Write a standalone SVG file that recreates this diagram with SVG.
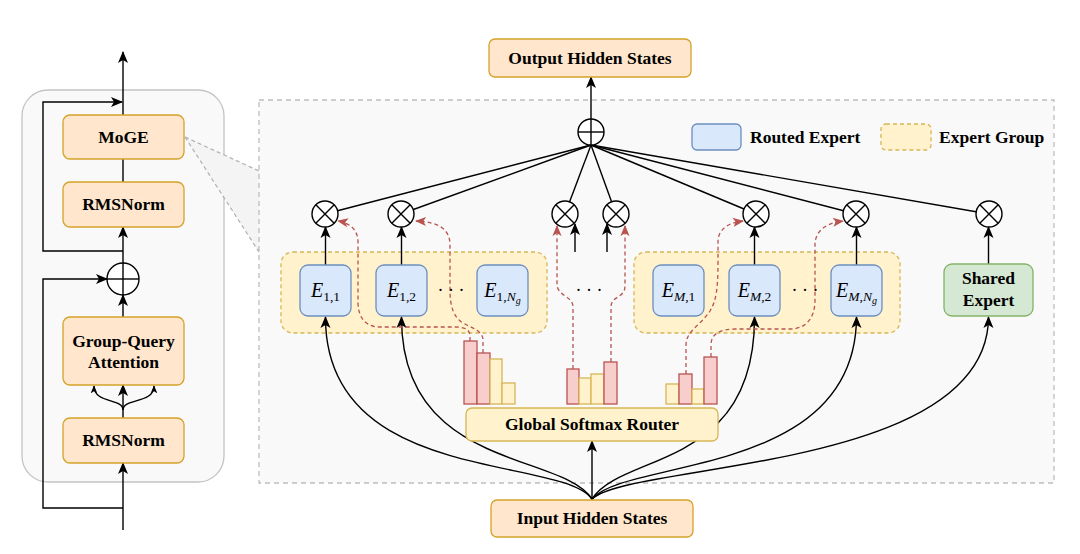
<svg xmlns="http://www.w3.org/2000/svg" width="1080" height="554" viewBox="0 0 1080 554">
<defs>
<marker id="ab" markerUnits="userSpaceOnUse" markerWidth="12" markerHeight="12" viewBox="0 0 12 12" refX="11" refY="6" orient="auto">
<path d="M0,1 L12,6 L0,11 L3,6 Z" fill="#000"/>
</marker>
<marker id="abs" markerUnits="userSpaceOnUse" markerWidth="8" markerHeight="8" viewBox="0 0 12 12" refX="11" refY="6" orient="auto">
<path d="M0,1 L12,6 L0,11 L3,6 Z" fill="#000"/>
</marker>
<marker id="ar" markerUnits="userSpaceOnUse" markerWidth="11" markerHeight="11" viewBox="0 0 12 12" refX="11" refY="6" orient="auto">
<path d="M0,1 L12,6 L0,11 L3,6 Z" fill="#b85450"/>
</marker>
<style>
text{font-family:"Liberation Serif","Times New Roman",serif;font-weight:bold;font-size:17.5px;fill:#000;text-anchor:middle}
.orange{fill:#ffe6cc;stroke:#d6a22a;stroke-width:1.3}
.blue{fill:#dae8fc;stroke:#6c8ebf;stroke-width:1.3}
.green{fill:#d5e8d4;stroke:#82b366;stroke-width:1.3}
.grp{fill:#fff2cc;stroke:#d6b656;stroke-width:1.3;stroke-dasharray:4 3}
.router{fill:#fff2cc;stroke:#d6b656;stroke-width:1.3}
.rbar{fill:#f8cecc;stroke:#b85450;stroke-width:1.3}
.ybar{fill:#fff2cc;stroke:#d6b656;stroke-width:1.3}
.ln{fill:none;stroke:#000;stroke-width:1.4}
.rd{fill:none;stroke:#b85450;stroke-width:1.3;stroke-dasharray:4 3}
.op{fill:#fff;stroke:#000;stroke-width:1.4}
.math{font-family:"Liberation Serif","Times New Roman",serif;font-style:italic;font-weight:normal;font-size:20px}
.sub{font-style:normal;font-size:13.5px}
.subi{font-style:italic;font-size:13.5px}
.subsub{font-style:italic;font-size:10px}
.dots{font-weight:normal;font-size:18px}
.leg{text-anchor:start}
</style>
</defs>

<!-- Left panel background -->
<rect x="22" y="90" width="202" height="392" rx="26" fill="#f9f9f9" stroke="#c4c4c4" stroke-width="1.3"/>

<!-- Zoom region -->
<polygon points="185,137 259,171 259,252" fill="#f4f4f4"/>
<rect x="259" y="100" width="795" height="383" fill="#f9f9f9" stroke="#bdbdbd" stroke-width="1.3" stroke-dasharray="5 4"/>
<g id="zoom-lines" stroke="#b0b0b0" stroke-width="1.2" stroke-dasharray="4 3" fill="none">
<line x1="185" y1="137" x2="259" y2="171"/>
<line x1="185" y1="137" x2="259" y2="252"/>
</g>

<!-- Expert group backgrounds -->
<g id="group-1"><rect class="grp" x="281" y="252" width="266" height="81" rx="12"/></g>
<g id="group-m"><rect class="grp" x="634" y="252" width="266" height="81" rx="12"/></g>

<!-- Connectors -->
<g id="connectors">
<!-- left panel -->
<line class="ln" x1="123" y1="530" x2="123" y2="463" marker-end="url(#ab)"/>
<path class="ln" d="M123,508 L43,508 L43,279 L107,279" marker-end="url(#ab)"/>
<line class="ln" x1="123" y1="418" x2="123" y2="385" marker-end="url(#ab)"/>
<path class="ln" d="M123,410 C123,398 94,404 94,386" marker-end="url(#abs)"/>
<path class="ln" d="M123,410 C123,398 154,404 154,386" marker-end="url(#abs)"/>
<line class="ln" x1="123" y1="317" x2="123" y2="295" marker-end="url(#ab)"/>
<line class="ln" x1="123" y1="263" x2="123" y2="227" marker-end="url(#ab)"/>
<path class="ln" d="M123,251 L43,251 L43,102 L122,102" marker-end="url(#ab)"/>
<line class="ln" x1="123" y1="182" x2="123" y2="159"/>
<line class="ln" x1="123" y1="115" x2="123" y2="52" marker-end="url(#ab)"/>

<!-- top: oplus to output -->
<line class="ln" x1="591" y1="119" x2="591" y2="77" marker-end="url(#ab)"/>
<!-- oplus to otimes -->
<line class="ln" x1="591" y1="145" x2="325" y2="214"/>
<line class="ln" x1="591" y1="145" x2="401" y2="214"/>
<line class="ln" x1="591" y1="145" x2="565" y2="214"/>
<line class="ln" x1="591" y1="145" x2="616" y2="214"/>
<line class="ln" x1="591" y1="145" x2="756" y2="214"/>
<line class="ln" x1="591" y1="145" x2="856" y2="214"/>
<line class="ln" x1="591" y1="145" x2="989" y2="214"/>

<!-- expert to otimes -->
<line class="ln" x1="325.5" y1="265" x2="325.5" y2="227" marker-end="url(#ab)"/>
<line class="ln" x1="401.5" y1="265" x2="401.5" y2="227" marker-end="url(#ab)"/>
<line class="ln" x1="754.5" y1="265" x2="754.5" y2="227" marker-end="url(#ab)"/>
<line class="ln" x1="856.5" y1="265" x2="856.5" y2="227" marker-end="url(#ab)"/>
<line class="ln" x1="988.5" y1="264" x2="988.5" y2="227" marker-end="url(#ab)"/>
<line class="ln" x1="575" y1="252" x2="575" y2="224" marker-end="url(#ab)"/>
<line class="ln" x1="607" y1="252" x2="607" y2="224" marker-end="url(#ab)"/>

<!-- input to router -->
<line class="ln" x1="592" y1="500" x2="592" y2="441" marker-end="url(#ab)"/>
<!-- input to experts -->
<path class="ln" d="M592,499 C560,455 325,485 325.5,317" marker-end="url(#ab)"/>
<path class="ln" d="M592,499 C562,452 401,470 401.5,317" marker-end="url(#ab)"/>
<path class="ln" d="M592,499 C622,452 755,470 754.5,317" marker-end="url(#ab)"/>
<path class="ln" d="M592,499 C626,458 856,478 856.5,317" marker-end="url(#ab)"/>
<path class="ln" d="M592,499 C630,462 988,472 988.5,317" marker-end="url(#ab)"/>

<!-- red routing -->
<path class="rd" d="M470,341 L470,336 C470,329 464,327 455,327 L380,327 C366,327 358,318 358,302 L358,242 C358,230 350,223 338,221" marker-end="url(#ar)"/>
<path class="rd" d="M483,353 L483,340 C483,331 472,328 463,323 C453,317 450,305 450,290 L450,245 C450,230 440,222 416,221" marker-end="url(#ar)"/>
<path class="rd" d="M573,369 L573,307 C573,296 557,296 557,284 L557,226" marker-end="url(#ar)"/>
<path class="rd" d="M611,362 L611,307 C611,296 625,298 625,286 L625,226" marker-end="url(#ar)"/>
<path class="rd" d="M686,374 L686,345 C686,331 700,326 710,311 C716,301 718,290 718,262 L718,242 C718,229 728,223 743,221" marker-end="url(#ar)"/>
<path class="rd" d="M711,357 L711,345 C711,334 720,329 735,329 L790,329 C806,329 815,318 815,300 L815,245 C815,231 826,223 843,221" marker-end="url(#ar)"/>
</g>

<!-- Left panel nodes -->
<g id="moge"><rect class="orange" x="63" y="115" width="121" height="44" rx="7"/><text x="123.5" y="143">MoGE</text></g>
<g id="rmsnorm-top"><rect class="orange" x="63" y="182" width="121" height="45" rx="7"/><text x="123.5" y="210">RMSNorm</text></g>
<g id="add-left"><circle class="op" cx="123" cy="279" r="16"/><line class="ln" x1="107" y1="279" x2="139" y2="279"/><line class="ln" x1="123" y1="263" x2="123" y2="295"/></g>
<g id="gqa"><rect class="orange" x="63" y="317" width="121" height="68" rx="7"/><text x="123.5" y="347">Group-Query</text><text x="123.5" y="368">Attention</text></g>
<g id="rmsnorm-bottom"><rect class="orange" x="63" y="418" width="121" height="45" rx="7"/><text x="123.5" y="446">RMSNorm</text></g>

<!-- Output / Input -->
<g id="output"><rect class="orange" x="489" y="39" width="202" height="38" rx="6"/><text x="590" y="64">Output Hidden States</text></g>
<g id="input"><rect class="orange" x="491" y="500" width="202" height="37" rx="6"/><text x="592" y="524">Input Hidden States</text></g>

<!-- oplus top -->
<g id="sum"><circle class="op" cx="591" cy="132" r="13"/><line class="ln" x1="578" y1="132" x2="604" y2="132"/><line class="ln" x1="591" y1="119" x2="591" y2="145"/></g>

<!-- otimes -->
<g id="mul-1"><circle class="op" cx="325" cy="214" r="13"/><path class="ln" d="M315.8,204.8 L334.2,223.2 M334.2,204.8 L315.8,223.2"/></g>
<g id="mul-2"><circle class="op" cx="401" cy="214" r="13"/><path class="ln" d="M391.8,204.8 L410.2,223.2 M410.2,204.8 L391.8,223.2"/></g>
<g id="mul-3"><circle class="op" cx="565" cy="214" r="13"/><path class="ln" d="M555.8,204.8 L574.2,223.2 M574.2,204.8 L555.8,223.2"/></g>
<g id="mul-4"><circle class="op" cx="616" cy="214" r="13"/><path class="ln" d="M606.8,204.8 L625.2,223.2 M625.2,204.8 L606.8,223.2"/></g>
<g id="mul-5"><circle class="op" cx="756" cy="214" r="13"/><path class="ln" d="M746.8,204.8 L765.2,223.2 M765.2,204.8 L746.8,223.2"/></g>
<g id="mul-6"><circle class="op" cx="856" cy="214" r="13"/><path class="ln" d="M846.8,204.8 L865.2,223.2 M865.2,204.8 L846.8,223.2"/></g>
<g id="mul-7"><circle class="op" cx="989" cy="214" r="13"/><path class="ln" d="M979.8,204.8 L998.2,223.2 M998.2,204.8 L979.8,223.2"/></g>

<!-- Experts -->
<g id="expert-1-1"><rect class="blue" x="300" y="265" width="51" height="51" rx="8"/>
<text class="math" x="325.5" y="297">E<tspan class="sub" dy="4">1,1</tspan></text></g>
<g id="expert-1-2"><rect class="blue" x="376" y="265" width="51" height="51" rx="8"/>
<text class="math" x="401.5" y="297">E<tspan class="sub" dy="4">1,2</tspan></text></g>
<g id="dots-1"><text class="dots" x="451" y="296">· · ·</text></g>
<g id="expert-1-ng"><rect class="blue" x="477" y="265" width="51" height="51" rx="8"/>
<text class="math" x="502.5" y="297">E<tspan class="sub" dy="4">1,</tspan><tspan class="subi">N</tspan><tspan class="subsub" dy="3">g</tspan></text></g>
<g id="middle-dots"><text class="dots" x="589" y="296">· · ·</text></g>
<g id="expert-m-1"><rect class="blue" x="653" y="265" width="51" height="51" rx="8"/>
<text class="math" x="678.5" y="297">E<tspan class="subi" dy="4">M</tspan><tspan class="sub">,1</tspan></text></g>
<g id="expert-m-2"><rect class="blue" x="729" y="265" width="51" height="51" rx="8"/>
<text class="math" x="754.5" y="297">E<tspan class="subi" dy="4">M</tspan><tspan class="sub">,2</tspan></text></g>
<g id="dots-m"><text class="dots" x="805" y="296">· · ·</text></g>
<g id="expert-m-ng"><rect class="blue" x="831" y="265" width="51" height="51" rx="8"/>
<text class="math" x="856.5" y="297">E<tspan class="subi" dy="4">M</tspan><tspan class="sub">,</tspan><tspan class="subi">N</tspan><tspan class="subsub" dy="3">g</tspan></text></g>
<g id="shared-expert"><rect class="green" x="944" y="264" width="89" height="52" rx="8"/><text x="988.5" y="284">Shared</text><text x="988.5" y="306">Expert</text></g>

<!-- Bars -->
<g id="bars-1">
<rect class="rbar" x="464" y="341" width="13" height="63"/>
<rect class="rbar" x="477" y="353" width="13" height="51"/>
<rect class="ybar" x="490" y="359" width="12" height="45"/>
<rect class="ybar" x="502" y="383" width="13" height="21"/>
</g>
<g id="bars-2">
<rect class="rbar" x="567" y="369" width="12" height="35"/>
<rect class="ybar" x="579" y="378" width="12" height="26"/>
<rect class="ybar" x="591" y="374" width="13" height="30"/>
<rect class="rbar" x="604" y="362" width="13" height="42"/>
</g>
<g id="bars-3">
<rect class="ybar" x="666" y="384" width="13" height="20"/>
<rect class="rbar" x="679" y="374" width="13" height="30"/>
<rect class="ybar" x="692" y="389" width="12" height="15"/>
<rect class="rbar" x="704" y="357" width="13" height="47"/>
</g>

<!-- Router -->
<g id="router"><rect class="router" x="466" y="408" width="252" height="33" rx="6"/><text x="592" y="430">Global Softmax Router</text></g>

<!-- Legend -->
<g id="legend-routed"><rect class="blue" x="692" y="124" width="49" height="26" rx="5"/><text class="leg" x="750" y="143">Routed Expert</text></g>
<g id="legend-group"><rect class="grp" x="881" y="124" width="50" height="26" rx="5"/><text class="leg" x="939" y="143">Expert Group</text></g>
</svg>
